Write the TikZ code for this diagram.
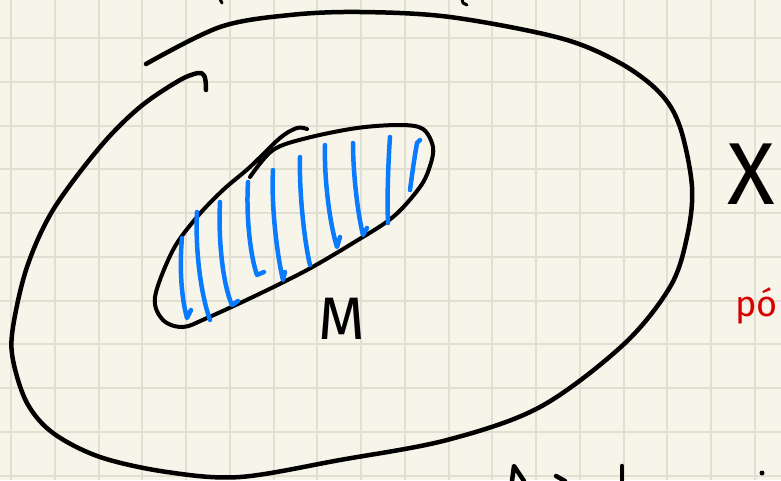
\documentclass[tikz,border=0pt]{standalone}
\usepackage{fontspec}
\setmainfont{Fira Sans}
\definecolor{paper}{HTML}{F7F5E9}
\definecolor{gridc}{HTML}{E1DFD2}
\definecolor{inkblue}{HTML}{0A7BFF}
\definecolor{inkred}{HTML}{D80000}
\begin{document}
\begin{tikzpicture}[x=1pt,y=-1pt,
  ink/.style={draw=black, line width=4.5pt, line cap=round, line join=round},
  hatch/.style={draw=inkblue, line width=4.5pt, line cap=round, line join=round},
  gridline/.style={draw=gridc, line width=2pt}]
\useasboundingbox (0,0) rectangle (781,480);
\fill[paper] (0,0) rectangle (781,480);
\begin{scope}
\clip (0,0) rectangle (781,480);
\foreach \i in {0,...,17} \draw[gridline] ({11+43.75*\i},0) -- ({11+43.75*\i},480);
\foreach \j in {0,...,10} \draw[gridline] (0,{38+43.75*\j}) -- (781,{38+43.75*\j});

% outer set X
\draw[ink] plot[smooth, tension=0.55] coordinates {(146,64) (220,27) (290,15) (360,12) (450,17) (560,38) (620,63) (660,93) (680,127) (692,187) (687,237) (670,287) (623,345) (540,407) (447,440) (340,460) (240,477) (167,472) (100,457) (53,433) (27,403) (13,360) (13,327) (27,267) (53,210) (100,147) (140,107) (180,80) (198,73)} .. controls (204,72) and (206,76) .. (206,90);

% inner set M
\draw[ink, line width=4pt] plot[smooth, tension=0.55] coordinates {(250,177) (273,150) (307,138) (357,128) (400,125) (423,129) (433,147) (430,166) (420,187) (393,217) (353,243) (307,270) (257,295) (207,318) (183,327) (163,320) (155,297) (173,250) (197,217) (223,190) (250,167) (280,138) (297,128) (307,129)};

% hatching
\draw[hatch] (182,238) .. controls (179,270) and (182,300) .. (187,318) -- (191,310);
\draw[hatch] (197,212) .. controls (195,250) and (201,295) .. (210,320);
\draw[hatch] (220,202) .. controls (218,240) and (223,285) .. (232,305) -- (238,301);
\draw[hatch] (248,182) .. controls (246,215) and (250,255) .. (257,275) -- (264,272);
\draw[hatch] (273,170) .. controls (271,205) and (277,255) .. (283,280) -- (285,272);
\draw[hatch] (300,157) .. controls (299,190) and (304,240) .. (310,265);
\draw[hatch] (325,145) .. controls (324,180) and (330,225) .. (337,247) -- (340,237);
\draw[hatch] (353,143) .. controls (353,175) and (358,215) .. (363,235) -- (367,228);
\draw[hatch] (390,137) .. controls (388,165) and (387,200) .. (388,223);
\draw[hatch] (420,140) -- (417,143) .. controls (414,160) and (412,175) .. (410,190);

% labels
\node[inner sep=0pt, font=\fontsize{60}{60}\selectfont] (M) at (342,319) {M};
\node[inner sep=0pt, font=\fontsize{88}{88}\selectfont] (X) at (751,174) {X};
\node[inner sep=0pt, anchor=base west, text=inkred, font=\fontsize{36}{36}\selectfont] (po) at (735,316) {pó};

% cut-off fragments at the edges
\draw[ink, line width=3pt] (220,-1) -- (222,3);
\draw[ink, line width=3pt] (462,-1) -- (463,3) -- (467,5);
\draw[ink] (512,481) -- (514,466) -- (524,481);
\draw[ink] (556,476) -- (565,481);
\draw[ink] (622,466) -- (622,481);
\fill[black] (762,473) circle (2.5pt);
\end{scope}
\end{tikzpicture}
\end{document}
